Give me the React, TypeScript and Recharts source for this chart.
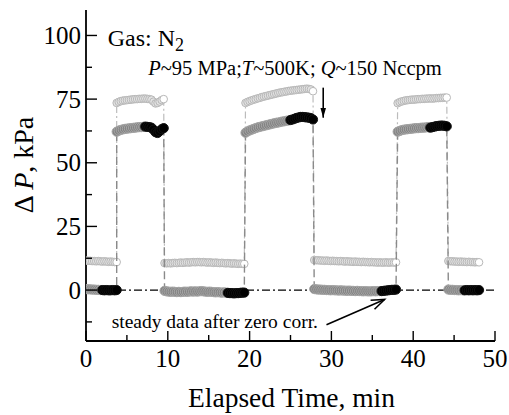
import React from "react";
import {
  ComposedChart,
  Scatter,
  XAxis,
  YAxis,
  ReferenceLine,
  ReferenceDot,
} from "recharts";

const FONT = "'Liberation Serif', 'Times New Roman', serif";
const serif = { fontFamily: FONT };

// sampling: every run starts at runStart[i], one reading per 0.25 min
const runStart = [0, 3.75, 9.6, 19.5, 27.9, 38.1, 44.3];
const sampleStep = 0.25;

// raw readings (light open circles), one list per run
const lightRuns = [
  [11.6, 11.5, 11.5, 11.4, 11.4, 11.3, 11.4, 11.3, 11.2, 11.3, 11.2, 11.1, 11.2, 11.1, 11.0, 11.0],
  [73.5, 73.9, 74.2, 74.4, 74.5, 74.6, 74.7, 74.8, 74.9, 75.0, 75.0, 75.1, 75.1, 75.2, 75.2, 75.1, 75.0, 74.8, 74.0, 73.3, 73.5, 74.0, 74.6, 75.0],
  [10.6, 10.5, 10.6, 10.5, 10.6, 10.7, 10.6, 10.7, 10.8, 10.7, 10.8, 10.9, 10.8, 10.9, 11.0, 10.9, 11.0, 11.0, 10.9, 11.0, 10.9, 10.8, 10.9, 10.8, 10.7, 10.8, 10.7, 10.6, 10.7, 10.6, 10.5, 10.6, 10.5, 10.4, 10.5, 10.4, 10.3, 10.4, 10.3, 10.3],
  [73.5, 73.9, 74.2, 74.5, 74.8, 75.0, 75.3, 75.5, 75.8, 76.0, 76.2, 76.4, 76.6, 76.8, 77.0, 77.2, 77.4, 77.6, 77.7, 77.9, 78.0, 78.2, 78.3, 78.4, 78.5, 78.6, 78.7, 78.8, 78.9, 79.0, 79.1, 79.0, 78.8, 78.1],
  [11.8, 11.7, 11.7, 11.6, 11.6, 11.5, 11.6, 11.5, 11.4, 11.5, 11.4, 11.4, 11.3, 11.4, 11.3, 11.2, 11.3, 11.2, 11.2, 11.1, 11.2, 11.1, 11.1, 11.0, 11.1, 11.0, 11.0, 10.9, 11.0, 10.9, 10.9, 10.8, 10.9, 10.8, 10.8, 10.9, 10.8, 10.8, 10.9, 10.8, 10.9],
  [73.4, 73.8, 74.1, 74.3, 74.5, 74.6, 74.7, 74.8, 74.8, 74.9, 75.0, 75.0, 75.1, 75.1, 75.2, 75.2, 75.3, 75.2, 75.3, 75.4, 75.4, 75.5, 75.5, 75.6, 75.6],
  [11.4, 11.3, 11.3, 11.2, 11.2, 11.1, 11.2, 11.1, 11.1, 11.0, 11.1, 11.0, 11.0, 10.9, 11.0, 10.9],
];

// zero-corrected readings (dark gray), start of each run
const grayRuns = [
  [0.4, 0.3, 0.3, 0.2, 0.2, 0.1, 0.1, 0.0],
  [62.2, 62.6, 62.9, 63.1, 63.3, 63.4, 63.5, 63.6, 63.7, 63.8, 63.9, 64.0, 64.0, 64.1],
  [-0.3, -0.5, -0.6, -0.7, -0.6, -0.7, -0.8, -0.7, -0.8, -0.7, -0.6, -0.7, -0.6, -0.5, -0.6, -0.5, -0.6, -0.5, -0.4, -0.5, -0.6, -0.7, -0.6, -0.7, -0.8, -0.9, -0.8, -0.9, -1.0, -0.9, -1.0],
  [61.8, 62.3, 62.7, 63.0, 63.3, 63.6, 63.9, 64.1, 64.3, 64.5, 64.7, 64.9, 65.1, 65.3, 65.5, 65.7, 65.8, 66.0, 66.2, 66.3, 66.5, 66.6],
  [0.4, 0.3, 0.2, 0.2, 0.1, 0.1, 0.0, 0.0, -0.1, 0.0, -0.1, -0.1, -0.2, -0.1, -0.2, -0.2, -0.3, -0.2, -0.3, -0.3, -0.4, -0.3, -0.4, -0.4, -0.5, -0.4, -0.5, -0.5, -0.5, -0.4, -0.5, -0.4, -0.4],
  [62.2, 62.5, 62.8, 63.0, 63.1, 63.2, 63.3, 63.4, 63.5, 63.6, 63.6, 63.7, 63.8, 63.8, 63.9, 64.0],
  [0.2, 0.1, 0.1, 0.0, 0.0, -0.1, 0.0, -0.1],
];

// steady part (black), continues each gray run
const blackRuns = [
  [0.0, -0.1, 0.0, -0.1, -0.1, 0.0, -0.1, 0.0],
  [64.2, 64.1, 64.0, 63.8, 63.0, 62.0, 61.7, 62.4, 63.2, 63.6],
  [-1.1, -1.2, -1.2, -1.3, -1.2, -1.2, -1.1, -1.0, -1.0],
  [66.8, 67.0, 67.3, 67.6, 67.8, 68.0, 68.0, 67.9, 67.8, 67.7, 67.5, 67.0],
  [-0.4, -0.3, -0.2, -0.1, 0.0, 0.1, 0.1, 0.2],
  [63.8, 64.0, 64.2, 64.4, 64.5, 64.6, 64.6, 64.5, 64.3],
  [-0.1, 0.0, -0.1, 0.0, -0.1, 0.0, -0.1, 0.0],
];

const xTicks = [0, 5, 10, 15, 20, 25, 30, 35, 40, 45, 50];
const yTicks = [-12.5, 0, 12.5, 25, 37.5, 50, 62.5, 75, 87.5, 100];

const lightPoints = lightRuns.flatMap((run, s) =>
  run.map((v, i) => ({
    t: runStart[s] + i * sampleStep,
    v,
    kind: i === run.length - 1 ? "open" : "light",
  }))
);

const darkPoints = grayRuns.flatMap((gray, s) => [
  ...gray.map((v, i) => ({ t: runStart[s] + i * sampleStep, v, kind: "gray" })),
  ...blackRuns[s].map((v, i) => ({
    t: runStart[s] + (gray.length + i) * sampleStep,
    v,
    kind: "black",
  })),
]);

const frame = { stroke: "#000", strokeWidth: 1.8 };

function Marker(props: any) {
  const { cx, cy, payload } = props;
  if (cx == null || cy == null) return null;
  const k = payload.kind;
  if (k === "light" || k === "open") {
    return (
      <circle cx={cx} cy={cy} r={3.8} fill={k === "open" ? "#fff" : "#e2e2e2"} stroke="#b8b8b8" strokeWidth={1} />
    );
  }
  if (k === "black") {
    return <circle cx={cx} cy={cy} r={4.6} fill="#000" stroke="#111" strokeWidth={1} />;
  }
  return <circle cx={cx} cy={cy} r={4.6} fill="#838383" stroke="#a6a6a6" strokeWidth={1} />;
}

const bottomTick = (p: any) => {
  const v = p.payload.value;
  const major = v % 10 === 0;
  return (
    <g>
      <line x1={p.x} x2={p.x} y1={p.y} y2={p.y - (major ? 10 : 6)} stroke="#000" strokeWidth={1.4} />
      {major && (
        <text x={p.x} y={p.y + 25.5} textAnchor="middle" style={{ ...serif, fontSize: 25 }} fill="#000">
          {v}
        </text>
      )}
    </g>
  );
};

const topTick = (p: any) => {
  const major = p.payload.value % 10 === 0;
  return <line x1={p.x} x2={p.x} y1={p.y} y2={p.y + (major ? 11 : 5)} stroke="#000" strokeWidth={1.4} />;
};

const leftTick = (p: any) => {
  const v = p.payload.value;
  const major = v % 25 === 0;
  return (
    <g>
      <line x1={p.x} x2={p.x + (major ? 11 : 6)} y1={p.y} y2={p.y} stroke="#000" strokeWidth={1.4} />
      {major && (
        <text x={p.x - 5} y={p.y + 8.5} textAnchor="end" style={{ ...serif, fontSize: 25 }} fill="#000">
          {v}
        </text>
      )}
    </g>
  );
};

const rightTick = (p: any) => {
  const major = p.payload.value % 25 === 0;
  return <line x1={p.x - (major ? 11 : 6)} x2={p.x} y1={p.y} y2={p.y} stroke="#000" strokeWidth={1.4} />;
};

function arrowShape(filledHead: boolean) {
  return (p: any) => {
    const { x1, y1, x2, y2 } = p;
    const a = Math.atan2(y2 - y1, x2 - x1);
    const len = filledHead ? 10 : 14;
    const spread = filledHead ? 0.28 : 0.36;
    const hx1 = x2 - len * Math.cos(a - spread);
    const hy1 = y2 - len * Math.sin(a - spread);
    const hx2 = x2 - len * Math.cos(a + spread);
    const hy2 = y2 - len * Math.sin(a + spread);
    return (
      <g>
        <line x1={x1} y1={y1} x2={x2} y2={y2} stroke="#000" strokeWidth={1.6} />
        {filledHead ? (
          <polygon points={`${x2},${y2} ${hx1},${hy1} ${hx2},${hy2}`} fill="#000" />
        ) : (
          <polyline points={`${hx1},${hy1} ${x2},${y2} ${hx2},${hy2}`} fill="none" stroke="#000" strokeWidth={1.6} />
        )}
      </g>
    );
  };
}

export default function App() {
  return (
    <div style={{ position: "absolute", left: 0, top: 0, background: "#fff", fontFamily: FONT }}>
      <ComposedChart width={509} height={415} margin={{ top: 10, right: 14, left: 0, bottom: 0 }} style={serif}>
        <XAxis
          xAxisId="b"
          type="number"
          dataKey="t"
          domain={[0, 50]}
          ticks={xTicks}
          interval={0}
          allowDataOverflow
          height={74}
          tickLine={false}
          tickSize={0}
          tickMargin={0}
          axisLine={frame}
          tick={bottomTick}
          label={{
            content: (lp: any) => {
              const vb = lp.viewBox;
              return (
                <text x={vb.x + vb.width / 2 + 1} y={vb.y + 65.5} textAnchor="middle" style={{ ...serif, fontSize: 27.5 }} fill="#000">
                  Elapsed Time, min
                </text>
              );
            },
          }}
        />
        <XAxis
          xAxisId="t"
          orientation="top"
          type="number"
          domain={[0, 50]}
          ticks={xTicks}
          interval={0}
          allowDataOverflow
          height={0}
          tickLine={false}
          tickSize={0}
          tickMargin={0}
          axisLine={frame}
          tick={topTick}
        />
        <YAxis
          yAxisId="l"
          type="number"
          dataKey="v"
          domain={[-20, 110]}
          ticks={yTicks}
          interval={0}
          allowDataOverflow
          width={86}
          tickLine={false}
          tickSize={0}
          tickMargin={0}
          axisLine={frame}
          tick={leftTick}
          label={{
            content: () => (
              <text x={33} y={165} transform="rotate(-90 33 165)" textAnchor="middle" style={{ ...serif, fontSize: 28 }} fill="#000">
                Δ <tspan fontStyle="italic">P</tspan>, kPa
              </text>
            ),
          }}
        />
        <YAxis
          yAxisId="r"
          orientation="right"
          type="number"
          domain={[-20, 110]}
          ticks={yTicks}
          interval={0}
          allowDataOverflow
          width={0}
          tickLine={false}
          tickSize={0}
          tickMargin={0}
          axisLine={frame}
          tick={rightTick}
        />
        <ReferenceLine xAxisId="b" yAxisId="l" y={0} stroke="#000" strokeWidth={1.2} strokeDasharray="8 3 2 3" />
        <Scatter
          xAxisId="b"
          yAxisId="l"
          data={lightPoints}
          dataKey="v"
          line={{ stroke: "#bcbcbc", strokeWidth: 1.2, strokeDasharray: "7 3 2 3" }}
          lineType="joint"
          shape={Marker}
          isAnimationActive={false}
        />
        <Scatter
          xAxisId="b"
          yAxisId="l"
          data={darkPoints}
          dataKey="v"
          line={{ stroke: "#8a8a8a", strokeWidth: 1.4, strokeDasharray: "8 4" }}
          lineType="joint"
          shape={Marker}
          isAnimationActive={false}
        />
        <ReferenceLine
          xAxisId="b"
          yAxisId="l"
          segment={[{ x: 29, y: 79.5 }, { x: 29, y: 67.7 }]}
          shape={arrowShape(true)}
        />
        <ReferenceLine
          xAxisId="b"
          yAxisId="l"
          segment={[{ x: 29.4, y: -13.6 }, { x: 36.5, y: -3.7 }]}
          shape={arrowShape(false)}
        />
        <ReferenceDot
          xAxisId="b"
          yAxisId="l"
          x={2.65}
          y={95.8}
          r={0}
          shape={(p: any) => (
            <text x={p.cx} y={p.cy} style={{ ...serif, fontSize: 24 }} fill="#000">
              Gas: N
              <tspan fontSize={18} dy={5}>2</tspan>
            </text>
          )}
        />
        <ReferenceDot
          xAxisId="b"
          yAxisId="l"
          x={7.6}
          y={84.4}
          r={0}
          shape={(p: any) => (
            <text x={p.cx} y={p.cy} style={{ ...serif, fontSize: 20.5 }} fill="#000">
              <tspan fontStyle="italic">P</tspan>~95 MPa;<tspan fontStyle="italic">T</tspan>~500K;{" "}
              <tspan fontStyle="italic">Q</tspan>~150 Nccpm
            </text>
          )}
        />
        <ReferenceDot
          xAxisId="b"
          yAxisId="l"
          x={3.14}
          y={-14.8}
          r={0}
          shape={(p: any) => (
            <text x={p.cx} y={p.cy} style={{ ...serif, fontSize: 19.5 }} fill="#000">
              steady data after zero corr.
            </text>
          )}
        />
      </ComposedChart>
    </div>
  );
}
